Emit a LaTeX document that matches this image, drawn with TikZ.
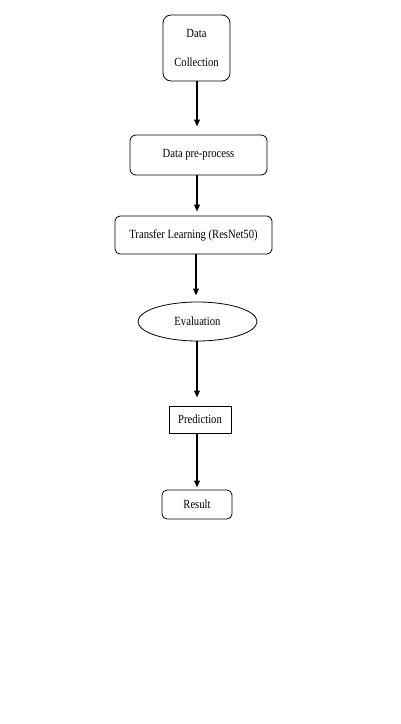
\documentclass[tikz,border=0pt]{standalone}
\usepackage{fontspec}
\setmainfont{Liberation Serif}[FakeStretch=0.85]
\usetikzlibrary{shapes.geometric,arrows.meta}
\begin{document}
\begin{tikzpicture}[x=1pt,y=-1pt,
  box/.style={draw,line width=0.8pt,inner sep=0pt,font=\fontsize{12.5}{14.5}\selectfont,align=center},
  arr/.style={line width=2pt,-{Triangle[length=7pt,width=5.5pt]}}]
\useasboundingbox (0,0) rectangle (400,724);
\node[box,rounded corners=8pt,minimum width=67pt,minimum height=66pt] (dc) at (196.5,48) {Data\\[15pt]Collection};
\node[box,rounded corners=6pt,minimum width=137pt,minimum height=40pt] (dp) at (198.5,155) {Data pre-process};
\node[box,rounded corners=5pt,minimum width=157pt,minimum height=38pt] (tl) at (193.5,235) {Transfer Learning (ResNet50)};
\node[box,ellipse,minimum width=119pt,minimum height=39pt] (ev) at (197.5,321.5) {Evaluation};
\node[box,minimum width=62pt,minimum height=27pt] (pr) at (200,419.5) {Prediction};
\node[box,rounded corners=5pt,minimum width=70pt,minimum height=29pt] (rs) at (197,504.5) {Result};
\draw[arr,shorten >=8pt] ([xshift=0.5pt]dc.south) -- ([xshift=0.5pt]dc.south |- dp.north);
\draw[arr,shorten >=4pt] ([xshift=-1.5pt]dp.south) -- ([xshift=-1.5pt]dp.south |- tl.north);
\draw[arr,shorten >=6pt] ([xshift=2.5pt]tl.south) -- ([xshift=2.5pt]tl.south |- ev.north);
\draw[arr,shorten >=8pt] ([xshift=-0.5pt]ev.south) -- ([xshift=-0.5pt]ev.south |- pr.north);
\draw[arr,shorten >=2pt] ([xshift=-3pt]pr.south) -- ([xshift=-3pt]pr.south |- rs.north);
\end{tikzpicture}
\end{document}
